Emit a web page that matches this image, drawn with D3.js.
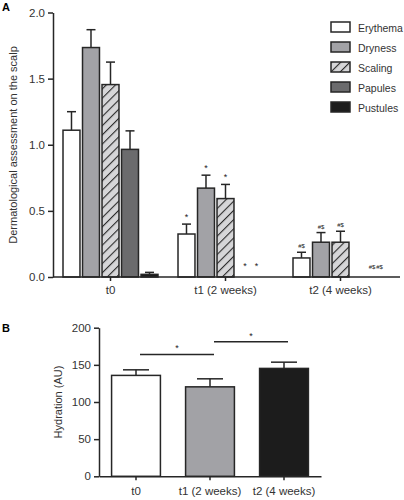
<!DOCTYPE html>
<html><head><meta charset="utf-8">
<script src="https://cdn.jsdelivr.net/npm/d3@7"></script>
<style>body{margin:0;background:#fff}svg{display:block;font-family:"Liberation Sans",Arial,sans-serif}</style>
</head><body><svg id="c" width="404" height="500"></svg>
<script>
const timepoints = ["t0", "t1 (2 weeks)", "t2 (4 weeks)"];
const symptoms = ["Erythema", "Dryness", "Scaling", "Papules", "Pustules"];
const meanT0 = [1.11, 1.735, 1.455, 0.965, 0.02];
const errT0 = [1.25, 1.87, 1.625, 1.105, 0.035];
const meanT1 = [0.325, 0.672, 0.593, 0, 0];
const errT1 = [0.40, 0.77, 0.70, 0, 0];
const meanT2 = [0.144, 0.263, 0.263, 0, 0];
const errT2 = [0.187, 0.336, 0.346, 0, 0];
const sigT1 = ["*", "*", "*", "*", "*"];
const sigT2 = ["#$", "#$", "#$", "#$", "#$"];
const yTicksA = [0, 0.5, 1.0, 1.5, 2.0];

const hydrMean = [135.8, 120.4, 145.2];
const hydrErr = [143.3, 131.2, 153.6];
const yTicksB = [0, 50, 100, 150, 200];

const fills = {Erythema:"#ffffff", Dryness:"#a2a2a6", Scaling:"url(#hatch)", Papules:"#6b6b6d", Pustules:"#1c1c1c"};
const stroke = "#262626";

const svg = d3.select("#c");
const defs = svg.append("defs");
const pat = defs.append("pattern").attr("id","hatch").attr("patternUnits","userSpaceOnUse")
  .attr("width",6.5).attr("height",6.5).attr("patternTransform","rotate(45)");
pat.append("rect").attr("width",6.5).attr("height",6.5).attr("fill","#d6d6d8");
pat.append("line").attr("x1",0).attr("y1",0).attr("x2",0).attr("y2",6.5).attr("stroke","#2a2a2a").attr("stroke-width",2.2);

// ---------- Panel A ----------
const meansA = [meanT0, meanT1, meanT2];
const errsA = [errT0, errT1, errT2];
const x0 = d3.scaleBand().domain(timepoints).range([53, 398]).paddingInner(0.152).paddingOuter(0.076);
const x1 = d3.scaleBand().domain(symptoms).range([0, x0.bandwidth()]).paddingInner(0.13).paddingOuter(0.065);
const yA = d3.scaleLinear().domain([0, 2]).range([277, 12.5]);
// horizontal nudges for labels over empty bars, per timepoint [papules, pustules]
const emptyLabelShift = [[0,0],[0,-8],[12,0]];

const gA = svg.append("g");
gA.append("text").attr("x",2).attr("y",11).attr("font-size",11).attr("font-weight","bold").text("A");

timepoints.forEach((tp, i) => {
  const g = gA.append("g").attr("transform", `translate(${x0(tp)},0)`);
  symptoms.forEach((s, j) => {
    const m = meansA[i][j], e = errsA[i][j];
    const bx = x1(s), bw = x1.bandwidth(), cx = bx + bw/2;
    if (m > 0) {
      g.append("line").attr("x1",cx).attr("x2",cx).attr("y1",yA(m)).attr("y2",yA(e)).attr("stroke",stroke).attr("stroke-width",1.5);
      g.append("line").attr("x1",cx-4.5).attr("x2",cx+4.5).attr("y1",yA(e)).attr("y2",yA(e)).attr("stroke",stroke).attr("stroke-width",1.5);
      g.append("rect").attr("x",bx).attr("y",yA(m)).attr("width",bw).attr("height",yA(0)-yA(m))
        .attr("fill",fills[s]).attr("stroke",stroke).attr("stroke-width",1.5);
    }
    let lab = i === 1 ? sigT1[j] : i === 2 ? sigT2[j] : null;
    if (lab) {
      let ly = m > 0 ? yA(e) - 4 : yA(0) - 8;
      let lx = cx;
      if (m === 0) lx = cx + emptyLabelShift[i][j - 3];
      g.append("text").attr("x",lx).attr("y",ly).attr("text-anchor","middle")
        .attr("font-size", lab === "*" ? 9 : 6).attr("fill","#222").text(lab);
    }
  });
});

const axA = gA.append("g").attr("transform","translate(53,0)")
  .call(d3.axisLeft(yA).tickValues(yTicksA).tickFormat(d3.format(".1f")).tickSize(5).tickSizeOuter(0));
axA.select(".domain").attr("stroke",stroke).attr("stroke-width",1.5);
axA.selectAll(".tick line").attr("stroke",stroke).attr("stroke-width",1.5);
axA.selectAll("text").attr("font-size",11.5).attr("fill","#333").attr("font-family","Liberation Sans, Arial, sans-serif");

const axAx = gA.append("g").attr("transform","translate(0,277)")
  .call(d3.axisBottom(x0).tickSize(4).tickSizeOuter(0).tickPadding(5));
axAx.select(".domain").attr("d","M53,0H400").attr("stroke",stroke).attr("stroke-width",1.5);
axAx.selectAll(".tick line").attr("stroke",stroke).attr("stroke-width",1.5);
axAx.selectAll("text").attr("font-size",11.5).attr("fill","#333").attr("font-family","Liberation Sans, Arial, sans-serif");

gA.append("text").attr("transform","translate(17,145) rotate(-90)").attr("text-anchor","middle")
  .attr("font-size",11).attr("fill","#333").text("Dermatological assessment on the scalp");

// legend
const leg = gA.append("g").attr("transform","translate(331,22)");
symptoms.forEach((s, j) => {
  const r = leg.append("g").attr("transform",`translate(0,${j*20})`);
  r.append("rect").attr("width",19).attr("height",10).attr("fill",fills[s]).attr("stroke",stroke).attr("stroke-width",1.5);
  r.append("text").attr("x",27).attr("y",9.5).attr("font-size",10.5).attr("fill","#333").text(s);
});

// ---------- Panel B ----------
const xB = d3.scaleBand().domain(timepoints).range([99, 321]).paddingInner(0.34).paddingOuter(0.17);
const yB = d3.scaleLinear().domain([0, 200]).range([476.3, 327.7]);
const fillsB = ["#ffffff", "#a2a2a6", "#1c1c1c"];
const gB = svg.append("g");
gB.append("text").attr("x",2).attr("y",332).attr("font-size",11).attr("font-weight","bold").text("B");

timepoints.forEach((tp, i) => {
  const bx = xB(tp), bw = xB.bandwidth(), cx = bx + bw/2;
  gB.append("line").attr("x1",cx).attr("x2",cx).attr("y1",yB(hydrMean[i])).attr("y2",yB(hydrErr[i])).attr("stroke",stroke).attr("stroke-width",1.5);
  gB.append("line").attr("x1",cx-13).attr("x2",cx+13).attr("y1",yB(hydrErr[i])).attr("y2",yB(hydrErr[i])).attr("stroke",stroke).attr("stroke-width",1.5);
  gB.append("rect").attr("x",bx).attr("y",yB(hydrMean[i])).attr("width",bw).attr("height",yB(0)-yB(hydrMean[i]))
    .attr("fill",fillsB[i]).attr("stroke",stroke).attr("stroke-width",1.5);
});

// significance brackets
const sigPairs = [[0,1,164],[1,2,181]];
sigPairs.forEach(([a,b,v]) => {
  const xa = xB(timepoints[a]) + xB.bandwidth()/2 + 4, xb = xB(timepoints[b]) + xB.bandwidth()/2 + 4;
  gB.append("line").attr("x1",xa).attr("x2",xb).attr("y1",yB(v)).attr("y2",yB(v)).attr("stroke",stroke).attr("stroke-width",1.5);
  gB.append("text").attr("x",(xa+xb)/2).attr("y",yB(v)-3).attr("text-anchor","middle").attr("font-size",9).attr("fill","#222").text("*");
});

const axB = gB.append("g").attr("transform","translate(99,0)")
  .call(d3.axisLeft(yB).tickValues(yTicksB).tickSize(5).tickSizeOuter(0));
axB.select(".domain").attr("stroke",stroke).attr("stroke-width",1.5);
axB.selectAll(".tick line").attr("stroke",stroke).attr("stroke-width",1.5);
axB.selectAll("text").attr("font-size",11.5).attr("fill","#333").attr("font-family","Liberation Sans, Arial, sans-serif");

const axBx = gB.append("g").attr("transform","translate(0,476.3)")
  .call(d3.axisBottom(xB).tickSize(4).tickSizeOuter(0).tickPadding(7));
axBx.select(".domain").attr("stroke",stroke).attr("stroke-width",1.5);
axBx.selectAll(".tick line").attr("stroke",stroke).attr("stroke-width",1.5);
axBx.selectAll("text").attr("font-size",11.5).attr("fill","#333").attr("font-family","Liberation Sans, Arial, sans-serif");

gB.append("text").attr("transform","translate(62,402) rotate(-90)").attr("text-anchor","middle")
  .attr("font-size",11).attr("fill","#333").text("Hydration (AU)");
</script></body></html>
